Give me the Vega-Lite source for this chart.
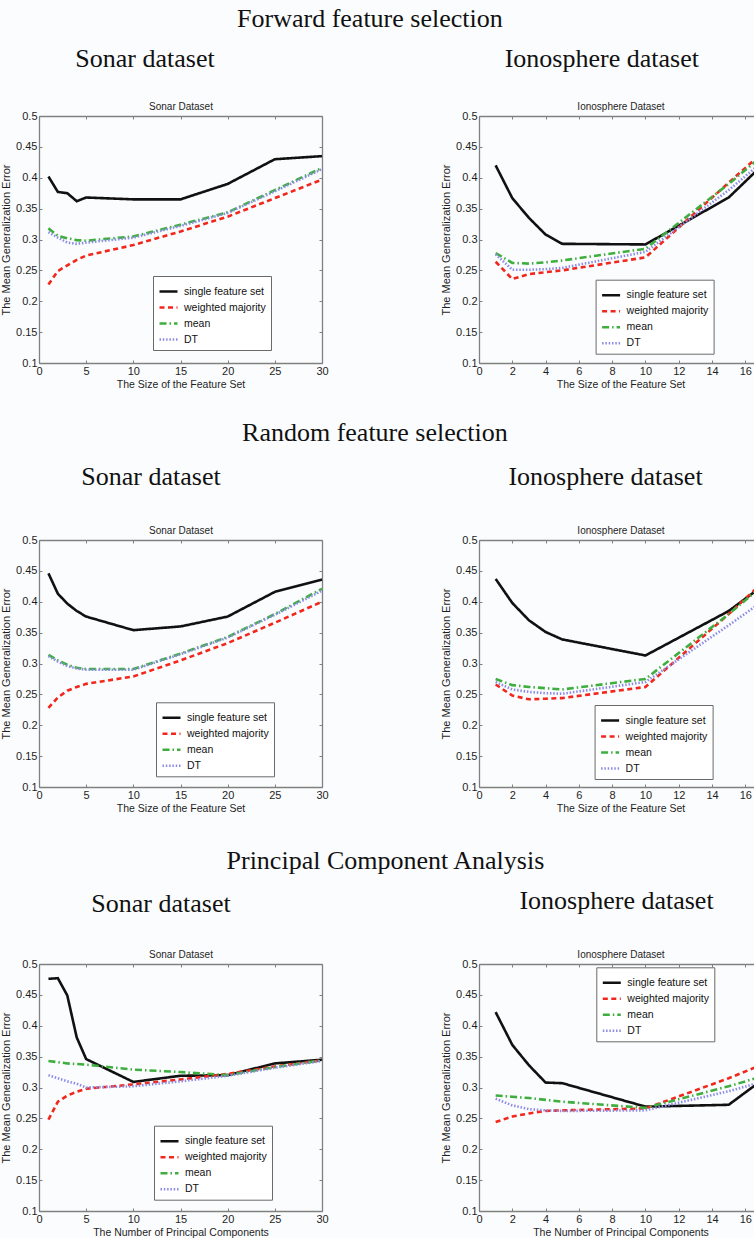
{
"$schema": "https://vega.github.io/schema/vega-lite/v6.json",
"background": "#fbfcfd",
"padding": {"left": 0, "top": 5, "right": -8, "bottom": 0},
"config": {
 "font": "Liberation Sans",
 "view": {"stroke": null},
 "axis": {"grid": false, "domainColor": "#808080", "domainWidth": 1.3, "tickColor": "#808080", "tickWidth": 1, "tickSize": -3, "labelPadding": 5, "labelFont": "Liberation Sans Narrow, Liberation Sans", "labelFontSize": 11, "labelColor": "#1e1e1e", "labelFlush": false, "labelOverlap": false, "titleFont": "Liberation Sans", "titleFontWeight": "normal", "titleColor": "#1e1e1e"},
 "axisBottom": {"titleFontSize": 10.5, "titlePadding": 3},
 "axisLeft": {"titleFontSize": 11, "titlePadding": 4},
 "axisTop": {"titleFontSize": 10, "titlePadding": 4},
 "title": {"font": "Liberation Serif", "fontSize": 26, "fontWeight": "normal", "color": "#111111"},
 "legend": {"fillColor": "#ffffff", "strokeColor": "#6a6a6a", "padding": 5, "labelFont": "Liberation Sans", "labelFontSize": 10.5, "labelColor": "#111111", "symbolType": "stroke", "symbolSize": 324, "labelOffset": 5, "rowPadding": -5}
},
"datasets": {"d": [
{"p":"fs","m":"single feature set","x":1,"y":0.402},{"p":"fs","m":"single feature set","x":2,"y":0.377},{"p":"fs","m":"single feature set","x":3,"y":0.375},{"p":"fs","m":"single feature set","x":4,"y":0.362},{"p":"fs","m":"single feature set","x":5,"y":0.368},{"p":"fs","m":"single feature set","x":10,"y":0.365},{"p":"fs","m":"single feature set","x":15,"y":0.365},{"p":"fs","m":"single feature set","x":20,"y":0.390},{"p":"fs","m":"single feature set","x":25,"y":0.430},{"p":"fs","m":"single feature set","x":30,"y":0.435},
{"p":"fs","m":"weighted majority","x":1,"y":0.227},{"p":"fs","m":"weighted majority","x":2,"y":0.249},{"p":"fs","m":"weighted majority","x":3,"y":0.258},{"p":"fs","m":"weighted majority","x":4,"y":0.267},{"p":"fs","m":"weighted majority","x":5,"y":0.274},{"p":"fs","m":"weighted majority","x":10,"y":0.291},{"p":"fs","m":"weighted majority","x":15,"y":0.313},{"p":"fs","m":"weighted majority","x":20,"y":0.337},{"p":"fs","m":"weighted majority","x":25,"y":0.367},{"p":"fs","m":"weighted majority","x":30,"y":0.397},
{"p":"fs","m":"mean","x":1,"y":0.318},{"p":"fs","m":"mean","x":2,"y":0.306},{"p":"fs","m":"mean","x":3,"y":0.302},{"p":"fs","m":"mean","x":4,"y":0.299},{"p":"fs","m":"mean","x":5,"y":0.298},{"p":"fs","m":"mean","x":10,"y":0.305},{"p":"fs","m":"mean","x":15,"y":0.324},{"p":"fs","m":"mean","x":20,"y":0.344},{"p":"fs","m":"mean","x":25,"y":0.380},{"p":"fs","m":"mean","x":30,"y":0.416},
{"p":"fs","m":"DT","x":1,"y":0.312},{"p":"fs","m":"DT","x":2,"y":0.303},{"p":"fs","m":"DT","x":3,"y":0.295},{"p":"fs","m":"DT","x":4,"y":0.293},{"p":"fs","m":"DT","x":5,"y":0.295},{"p":"fs","m":"DT","x":10,"y":0.303},{"p":"fs","m":"DT","x":15,"y":0.322},{"p":"fs","m":"DT","x":20,"y":0.343},{"p":"fs","m":"DT","x":25,"y":0.378},{"p":"fs","m":"DT","x":30,"y":0.414},
{"p":"fi","m":"single feature set","x":1,"y":0.420},{"p":"fi","m":"single feature set","x":2,"y":0.367},{"p":"fi","m":"single feature set","x":3,"y":0.335},{"p":"fi","m":"single feature set","x":4,"y":0.308},{"p":"fi","m":"single feature set","x":5,"y":0.293},{"p":"fi","m":"single feature set","x":10,"y":0.292},{"p":"fi","m":"single feature set","x":15,"y":0.368},{"p":"fi","m":"single feature set","x":17,"y":0.420},
{"p":"fi","m":"weighted majority","x":1,"y":0.264},{"p":"fi","m":"weighted majority","x":2,"y":0.236},{"p":"fi","m":"weighted majority","x":3,"y":0.244},{"p":"fi","m":"weighted majority","x":4,"y":0.247},{"p":"fi","m":"weighted majority","x":5,"y":0.250},{"p":"fi","m":"weighted majority","x":10,"y":0.271},{"p":"fi","m":"weighted majority","x":15,"y":0.392},{"p":"fi","m":"weighted majority","x":17,"y":0.440},
{"p":"fi","m":"mean","x":1,"y":0.278},{"p":"fi","m":"mean","x":2,"y":0.262},{"p":"fi","m":"mean","x":3,"y":0.261},{"p":"fi","m":"mean","x":4,"y":0.263},{"p":"fi","m":"mean","x":5,"y":0.266},{"p":"fi","m":"mean","x":10,"y":0.285},{"p":"fi","m":"mean","x":15,"y":0.390},{"p":"fi","m":"mean","x":17,"y":0.435},
{"p":"fi","m":"DT","x":1,"y":0.276},{"p":"fi","m":"DT","x":2,"y":0.251},{"p":"fi","m":"DT","x":3,"y":0.251},{"p":"fi","m":"DT","x":4,"y":0.252},{"p":"fi","m":"DT","x":5,"y":0.254},{"p":"fi","m":"DT","x":10,"y":0.280},{"p":"fi","m":"DT","x":15,"y":0.380},{"p":"fi","m":"DT","x":17,"y":0.425},
{"p":"rs","m":"single feature set","x":1,"y":0.446},{"p":"rs","m":"single feature set","x":2,"y":0.413},{"p":"rs","m":"single feature set","x":3,"y":0.397},{"p":"rs","m":"single feature set","x":4,"y":0.385},{"p":"rs","m":"single feature set","x":5,"y":0.376},{"p":"rs","m":"single feature set","x":10,"y":0.354},{"p":"rs","m":"single feature set","x":15,"y":0.360},{"p":"rs","m":"single feature set","x":20,"y":0.376},{"p":"rs","m":"single feature set","x":25,"y":0.416},{"p":"rs","m":"single feature set","x":30,"y":0.436},
{"p":"rs","m":"weighted majority","x":1,"y":0.228},{"p":"rs","m":"weighted majority","x":2,"y":0.245},{"p":"rs","m":"weighted majority","x":3,"y":0.256},{"p":"rs","m":"weighted majority","x":4,"y":0.262},{"p":"rs","m":"weighted majority","x":5,"y":0.267},{"p":"rs","m":"weighted majority","x":10,"y":0.279},{"p":"rs","m":"weighted majority","x":15,"y":0.305},{"p":"rs","m":"weighted majority","x":20,"y":0.333},{"p":"rs","m":"weighted majority","x":25,"y":0.366},{"p":"rs","m":"weighted majority","x":30,"y":0.400},
{"p":"rs","m":"mean","x":1,"y":0.314},{"p":"rs","m":"mean","x":2,"y":0.305},{"p":"rs","m":"mean","x":3,"y":0.298},{"p":"rs","m":"mean","x":4,"y":0.293},{"p":"rs","m":"mean","x":5,"y":0.291},{"p":"rs","m":"mean","x":10,"y":0.291},{"p":"rs","m":"mean","x":15,"y":0.316},{"p":"rs","m":"mean","x":20,"y":0.343},{"p":"rs","m":"mean","x":25,"y":0.380},{"p":"rs","m":"mean","x":30,"y":0.421},
{"p":"rs","m":"DT","x":1,"y":0.312},{"p":"rs","m":"DT","x":2,"y":0.303},{"p":"rs","m":"DT","x":3,"y":0.296},{"p":"rs","m":"DT","x":4,"y":0.292},{"p":"rs","m":"DT","x":5,"y":0.290},{"p":"rs","m":"DT","x":10,"y":0.290},{"p":"rs","m":"DT","x":15,"y":0.315},{"p":"rs","m":"DT","x":20,"y":0.342},{"p":"rs","m":"DT","x":25,"y":0.379},{"p":"rs","m":"DT","x":30,"y":0.418},
{"p":"ri","m":"single feature set","x":1,"y":0.437},{"p":"ri","m":"single feature set","x":2,"y":0.398},{"p":"ri","m":"single feature set","x":3,"y":0.370},{"p":"ri","m":"single feature set","x":4,"y":0.351},{"p":"ri","m":"single feature set","x":5,"y":0.339},{"p":"ri","m":"single feature set","x":10,"y":0.313},{"p":"ri","m":"single feature set","x":15,"y":0.385},{"p":"ri","m":"single feature set","x":17,"y":0.425},
{"p":"ri","m":"weighted majority","x":1,"y":0.266},{"p":"ri","m":"weighted majority","x":2,"y":0.248},{"p":"ri","m":"weighted majority","x":3,"y":0.242},{"p":"ri","m":"weighted majority","x":4,"y":0.243},{"p":"ri","m":"weighted majority","x":5,"y":0.244},{"p":"ri","m":"weighted majority","x":10,"y":0.262},{"p":"ri","m":"weighted majority","x":15,"y":0.380},{"p":"ri","m":"weighted majority","x":17,"y":0.430},
{"p":"ri","m":"mean","x":1,"y":0.275},{"p":"ri","m":"mean","x":2,"y":0.265},{"p":"ri","m":"mean","x":3,"y":0.262},{"p":"ri","m":"mean","x":4,"y":0.260},{"p":"ri","m":"mean","x":5,"y":0.258},{"p":"ri","m":"mean","x":10,"y":0.275},{"p":"ri","m":"mean","x":15,"y":0.380},{"p":"ri","m":"mean","x":17,"y":0.425},
{"p":"ri","m":"DT","x":1,"y":0.270},{"p":"ri","m":"DT","x":2,"y":0.258},{"p":"ri","m":"DT","x":3,"y":0.254},{"p":"ri","m":"DT","x":4,"y":0.252},{"p":"ri","m":"DT","x":5,"y":0.251},{"p":"ri","m":"DT","x":10,"y":0.270},{"p":"ri","m":"DT","x":15,"y":0.362},{"p":"ri","m":"DT","x":17,"y":0.400},
{"p":"ps","m":"single feature set","x":1,"y":0.476},{"p":"ps","m":"single feature set","x":2,"y":0.477},{"p":"ps","m":"single feature set","x":3,"y":0.449},{"p":"ps","m":"single feature set","x":4,"y":0.381},{"p":"ps","m":"single feature set","x":5,"y":0.346},{"p":"ps","m":"single feature set","x":10,"y":0.309},{"p":"ps","m":"single feature set","x":15,"y":0.319},{"p":"ps","m":"single feature set","x":20,"y":0.320},{"p":"ps","m":"single feature set","x":25,"y":0.339},{"p":"ps","m":"single feature set","x":30,"y":0.345},
{"p":"ps","m":"weighted majority","x":1,"y":0.248},{"p":"ps","m":"weighted majority","x":2,"y":0.277},{"p":"ps","m":"weighted majority","x":3,"y":0.287},{"p":"ps","m":"weighted majority","x":4,"y":0.293},{"p":"ps","m":"weighted majority","x":5,"y":0.298},{"p":"ps","m":"weighted majority","x":10,"y":0.305},{"p":"ps","m":"weighted majority","x":15,"y":0.313},{"p":"ps","m":"weighted majority","x":20,"y":0.322},{"p":"ps","m":"weighted majority","x":25,"y":0.334},{"p":"ps","m":"weighted majority","x":30,"y":0.344},
{"p":"ps","m":"mean","x":1,"y":0.343},{"p":"ps","m":"mean","x":2,"y":0.341},{"p":"ps","m":"mean","x":3,"y":0.339},{"p":"ps","m":"mean","x":4,"y":0.338},{"p":"ps","m":"mean","x":5,"y":0.337},{"p":"ps","m":"mean","x":10,"y":0.329},{"p":"ps","m":"mean","x":15,"y":0.325},{"p":"ps","m":"mean","x":20,"y":0.320},{"p":"ps","m":"mean","x":25,"y":0.333},{"p":"ps","m":"mean","x":30,"y":0.344},
{"p":"ps","m":"DT","x":1,"y":0.320},{"p":"ps","m":"DT","x":2,"y":0.315},{"p":"ps","m":"DT","x":3,"y":0.310},{"p":"ps","m":"DT","x":4,"y":0.306},{"p":"ps","m":"DT","x":5,"y":0.300},{"p":"ps","m":"DT","x":10,"y":0.302},{"p":"ps","m":"DT","x":15,"y":0.310},{"p":"ps","m":"DT","x":20,"y":0.319},{"p":"ps","m":"DT","x":25,"y":0.332},{"p":"ps","m":"DT","x":30,"y":0.343},
{"p":"pi","m":"single feature set","x":1,"y":0.422},{"p":"pi","m":"single feature set","x":2,"y":0.369},{"p":"pi","m":"single feature set","x":3,"y":0.336},{"p":"pi","m":"single feature set","x":4,"y":0.308},{"p":"pi","m":"single feature set","x":5,"y":0.307},{"p":"pi","m":"single feature set","x":10,"y":0.269},{"p":"pi","m":"single feature set","x":15,"y":0.272},{"p":"pi","m":"single feature set","x":17,"y":0.312},
{"p":"pi","m":"weighted majority","x":1,"y":0.244},{"p":"pi","m":"weighted majority","x":2,"y":0.253},{"p":"pi","m":"weighted majority","x":3,"y":0.258},{"p":"pi","m":"weighted majority","x":4,"y":0.262},{"p":"pi","m":"weighted majority","x":5,"y":0.263},{"p":"pi","m":"weighted majority","x":10,"y":0.266},{"p":"pi","m":"weighted majority","x":15,"y":0.315},{"p":"pi","m":"weighted majority","x":17,"y":0.337},
{"p":"pi","m":"mean","x":1,"y":0.287},{"p":"pi","m":"mean","x":2,"y":0.285},{"p":"pi","m":"mean","x":3,"y":0.283},{"p":"pi","m":"mean","x":4,"y":0.280},{"p":"pi","m":"mean","x":5,"y":0.277},{"p":"pi","m":"mean","x":10,"y":0.267},{"p":"pi","m":"mean","x":15,"y":0.302},{"p":"pi","m":"mean","x":17,"y":0.318},
{"p":"pi","m":"DT","x":1,"y":0.282},{"p":"pi","m":"DT","x":2,"y":0.271},{"p":"pi","m":"DT","x":3,"y":0.265},{"p":"pi","m":"DT","x":4,"y":0.263},{"p":"pi","m":"DT","x":5,"y":0.262},{"p":"pi","m":"DT","x":10,"y":0.263},{"p":"pi","m":"DT","x":15,"y":0.294},{"p":"pi","m":"DT","x":17,"y":0.309}
]},
"data": {"name": "d"},
"spacing": 424,
"bounds": "flush",
"resolve": {"scale": {"color": "independent", "strokeDash": "independent", "strokeWidth": "independent"}, "legend": {"color": "independent", "strokeDash": "independent", "strokeWidth": "independent"}},
"vconcat": [
{
 "title": {"text": "Forward feature selection", "anchor": "middle", "offset": 14, "dx": -14},
 "spacing": 157, "bounds": "flush",
 "resolve": {"scale": {"color": "independent", "strokeDash": "independent", "strokeWidth": "independent"}, "legend": {"color": "independent", "strokeDash": "independent", "strokeWidth": "independent"}},
 "hconcat": [
  {
   "title": {"text": "Sonar dataset", "frame": "group", "dx": -35.5, "offset": 30},
   "width": 283, "height": 247,
   "transform": [{"filter": "datum.p == 'fs'"}],
   "layer": [
    {"mark": {"type": "line"},
     "encoding": {
      "x": {"field": "x", "type": "quantitative", "scale": {"domain": [0, 30], "nice": false}, "axis": {"orient": "bottom", "title": "The Size of the Feature Set", "values": [0,5,10,15,20,25,30]}},
      "y": {"field": "y", "type": "quantitative", "scale": {"domain": [0.1, 0.5], "nice": false, "zero": false}, "axis": {"orient": "left", "title": "The Mean Generalization Error", "values": [0.1,0.15,0.2,0.25,0.3,0.35,0.4,0.45,0.5], "format": ".2~f"}},
      "color": {"field": "m", "type": "nominal", "scale": {"domain": ["single feature set","weighted majority","mean","DT"], "range": ["#111111","#f2261b","#3fae3f","#8c8ce6"]}, "legend": {"title": null, "orient": "none", "legendX": 114, "legendY": 160}},
      "strokeDash": {"field": "m", "type": "nominal", "scale": {"domain": ["single feature set","weighted majority","mean","DT"], "range": [[1,0],[5,3.5],[7,3,1.5,3],[1.5,1.8]]}, "legend": {"title": null, "orient": "none", "legendX": 114, "legendY": 160}},
      "strokeWidth": {"field": "m", "type": "nominal", "scale": {"domain": ["single feature set","weighted majority","mean","DT"], "range": [2.6,2.6,1.8,1.8]}, "legend": {"title": null, "orient": "none", "legendX": 114, "legendY": 160}}
     }},
    {"mark": {"type": "point", "opacity": 0},
     "encoding": {
      "x": {"field": "x", "type": "quantitative", "scale": {"domain": [0, 30], "nice": false}, "axis": {"orient": "top", "title": "Sonar Dataset", "labels": false, "values": [0,5,10,15,20,25,30]}},
      "y": {"field": "y", "type": "quantitative", "scale": {"domain": [0.1, 0.5], "nice": false, "zero": false}, "axis": {"orient": "right", "title": null, "labels": false, "values": [0.1,0.15,0.2,0.25,0.3,0.35,0.4,0.45,0.5]}}
     }}
   ],
   "resolve": {"axis": {"x": "independent", "y": "independent"}}
  },
  {
   "title": {"text": "Ionosphere dataset", "frame": "group", "dx": -18.7, "offset": 30},
   "width": 283, "height": 247,
   "transform": [{"filter": "datum.p == 'fi'"}],
   "layer": [
    {"mark": {"type": "line"},
     "encoding": {
      "x": {"field": "x", "type": "quantitative", "scale": {"domain": [0, 17], "nice": false}, "axis": {"orient": "bottom", "title": "The Size of the Feature Set", "values": [0,2,4,6,8,10,12,14,16]}},
      "y": {"field": "y", "type": "quantitative", "scale": {"domain": [0.1, 0.5], "nice": false, "zero": false}, "axis": {"orient": "left", "title": "The Mean Generalization Error", "values": [0.1,0.15,0.2,0.25,0.3,0.35,0.4,0.45,0.5], "format": ".2~f"}},
      "color": {"field": "m", "type": "nominal", "scale": {"domain": ["single feature set","weighted majority","mean","DT"], "range": ["#111111","#f2261b","#3fae3f","#8c8ce6"]}, "legend": {"title": null, "orient": "none", "legendX": 116.6, "legendY": 163.7}},
      "strokeDash": {"field": "m", "type": "nominal", "scale": {"domain": ["single feature set","weighted majority","mean","DT"], "range": [[1,0],[5,3.5],[7,3,1.5,3],[1.5,1.8]]}, "legend": {"title": null, "orient": "none", "legendX": 116.6, "legendY": 163.7}},
      "strokeWidth": {"field": "m", "type": "nominal", "scale": {"domain": ["single feature set","weighted majority","mean","DT"], "range": [2.6,2.6,1.8,1.8]}, "legend": {"title": null, "orient": "none", "legendX": 116.6, "legendY": 163.7}}
     }},
    {"mark": {"type": "point", "opacity": 0},
     "encoding": {
      "x": {"field": "x", "type": "quantitative", "scale": {"domain": [0, 17], "nice": false}, "axis": {"orient": "top", "title": "Ionosphere Dataset", "labels": false, "values": [0,2,4,6,8,10,12,14,16]}},
      "y": {"field": "y", "type": "quantitative", "scale": {"domain": [0.1, 0.5], "nice": false, "zero": false}, "axis": {"orient": "right", "title": null, "labels": false, "values": [0.1,0.15,0.2,0.25,0.3,0.35,0.4,0.45,0.5]}}
     }}
   ],
   "resolve": {"axis": {"x": "independent", "y": "independent"}}
  }
 ]
},
{
 "title": {"text": "Random feature selection", "anchor": "middle", "offset": 18, "dx": -9},
 "spacing": 157, "bounds": "flush",
 "resolve": {"scale": {"color": "independent", "strokeDash": "independent", "strokeWidth": "independent"}, "legend": {"color": "independent", "strokeDash": "independent", "strokeWidth": "independent"}},
 "hconcat": [
  {
   "title": {"text": "Sonar dataset", "frame": "group", "dx": -29.5, "offset": 36},
   "width": 283, "height": 247,
   "transform": [{"filter": "datum.p == 'rs'"}],
   "layer": [
    {"mark": {"type": "line"},
     "encoding": {
      "x": {"field": "x", "type": "quantitative", "scale": {"domain": [0, 30], "nice": false}, "axis": {"orient": "bottom", "title": "The Size of the Feature Set", "values": [0,5,10,15,20,25,30]}},
      "y": {"field": "y", "type": "quantitative", "scale": {"domain": [0.1, 0.5], "nice": false, "zero": false}, "axis": {"orient": "left", "title": "The Mean Generalization Error", "values": [0.1,0.15,0.2,0.25,0.3,0.35,0.4,0.45,0.5], "format": ".2~f"}},
      "color": {"field": "m", "type": "nominal", "scale": {"domain": ["single feature set","weighted majority","mean","DT"], "range": ["#111111","#f2261b","#3fae3f","#8c8ce6"]}, "legend": {"title": null, "orient": "none", "legendX": 117, "legendY": 162.3}},
      "strokeDash": {"field": "m", "type": "nominal", "scale": {"domain": ["single feature set","weighted majority","mean","DT"], "range": [[1,0],[5,3.5],[7,3,1.5,3],[1.5,1.8]]}, "legend": {"title": null, "orient": "none", "legendX": 117, "legendY": 162.3}},
      "strokeWidth": {"field": "m", "type": "nominal", "scale": {"domain": ["single feature set","weighted majority","mean","DT"], "range": [2.6,2.6,1.8,1.8]}, "legend": {"title": null, "orient": "none", "legendX": 117, "legendY": 162.3}}
     }},
    {"mark": {"type": "point", "opacity": 0},
     "encoding": {
      "x": {"field": "x", "type": "quantitative", "scale": {"domain": [0, 30], "nice": false}, "axis": {"orient": "top", "title": "Sonar Dataset", "labels": false, "values": [0,5,10,15,20,25,30]}},
      "y": {"field": "y", "type": "quantitative", "scale": {"domain": [0.1, 0.5], "nice": false, "zero": false}, "axis": {"orient": "right", "title": null, "labels": false, "values": [0.1,0.15,0.2,0.25,0.3,0.35,0.4,0.45,0.5]}}
     }}
   ],
   "resolve": {"axis": {"x": "independent", "y": "independent"}}
  },
  {
   "title": {"text": "Ionosphere dataset", "frame": "group", "dx": -15, "offset": 36},
   "width": 283, "height": 247,
   "transform": [{"filter": "datum.p == 'ri'"}],
   "layer": [
    {"mark": {"type": "line"},
     "encoding": {
      "x": {"field": "x", "type": "quantitative", "scale": {"domain": [0, 17], "nice": false}, "axis": {"orient": "bottom", "title": "The Size of the Feature Set", "values": [0,2,4,6,8,10,12,14,16]}},
      "y": {"field": "y", "type": "quantitative", "scale": {"domain": [0.1, 0.5], "nice": false, "zero": false}, "axis": {"orient": "left", "title": "The Mean Generalization Error", "values": [0.1,0.15,0.2,0.25,0.3,0.35,0.4,0.45,0.5], "format": ".2~f"}},
      "color": {"field": "m", "type": "nominal", "scale": {"domain": ["single feature set","weighted majority","mean","DT"], "range": ["#111111","#f2261b","#3fae3f","#8c8ce6"]}, "legend": {"title": null, "orient": "none", "legendX": 115.6, "legendY": 165}},
      "strokeDash": {"field": "m", "type": "nominal", "scale": {"domain": ["single feature set","weighted majority","mean","DT"], "range": [[1,0],[5,3.5],[7,3,1.5,3],[1.5,1.8]]}, "legend": {"title": null, "orient": "none", "legendX": 115.6, "legendY": 165}},
      "strokeWidth": {"field": "m", "type": "nominal", "scale": {"domain": ["single feature set","weighted majority","mean","DT"], "range": [2.6,2.6,1.8,1.8]}, "legend": {"title": null, "orient": "none", "legendX": 115.6, "legendY": 165}}
     }},
    {"mark": {"type": "point", "opacity": 0},
     "encoding": {
      "x": {"field": "x", "type": "quantitative", "scale": {"domain": [0, 17], "nice": false}, "axis": {"orient": "top", "title": "Ionosphere Dataset", "labels": false, "values": [0,2,4,6,8,10,12,14,16]}},
      "y": {"field": "y", "type": "quantitative", "scale": {"domain": [0.1, 0.5], "nice": false, "zero": false}, "axis": {"orient": "right", "title": null, "labels": false, "values": [0.1,0.15,0.2,0.25,0.3,0.35,0.4,0.45,0.5]}}
     }}
   ],
   "resolve": {"axis": {"x": "independent", "y": "independent"}}
  }
 ]
},
{
 "title": {"text": "Principal Component Analysis", "anchor": "middle", "offset": 14, "dx": 1.5},
 "spacing": 157, "bounds": "flush",
 "resolve": {"scale": {"color": "independent", "strokeDash": "independent", "strokeWidth": "independent"}, "legend": {"color": "independent", "strokeDash": "independent", "strokeWidth": "independent"}},
 "hconcat": [
  {
   "title": {"text": "Sonar dataset", "frame": "group", "dx": -19.5, "offset": 33},
   "width": 283, "height": 247,
   "transform": [{"filter": "datum.p == 'ps'"}],
   "layer": [
    {"mark": {"type": "line"},
     "encoding": {
      "x": {"field": "x", "type": "quantitative", "scale": {"domain": [0, 30], "nice": false}, "axis": {"orient": "bottom", "title": "The Number of Principal Components", "values": [0,5,10,15,20,25,30]}},
      "y": {"field": "y", "type": "quantitative", "scale": {"domain": [0.1, 0.5], "nice": false, "zero": false}, "axis": {"orient": "left", "title": "The Mean Generalization Error", "values": [0.1,0.15,0.2,0.25,0.3,0.35,0.4,0.45,0.5], "format": ".2~f"}},
      "color": {"field": "m", "type": "nominal", "scale": {"domain": ["single feature set","weighted majority","mean","DT"], "range": ["#111111","#f2261b","#3fae3f","#8c8ce6"]}, "legend": {"title": null, "orient": "none", "legendX": 115, "legendY": 161.7}},
      "strokeDash": {"field": "m", "type": "nominal", "scale": {"domain": ["single feature set","weighted majority","mean","DT"], "range": [[1,0],[5,3.5],[7,3,1.5,3],[1.5,1.8]]}, "legend": {"title": null, "orient": "none", "legendX": 115, "legendY": 161.7}},
      "strokeWidth": {"field": "m", "type": "nominal", "scale": {"domain": ["single feature set","weighted majority","mean","DT"], "range": [2.6,2.6,1.8,1.8]}, "legend": {"title": null, "orient": "none", "legendX": 115, "legendY": 161.7}}
     }},
    {"mark": {"type": "point", "opacity": 0},
     "encoding": {
      "x": {"field": "x", "type": "quantitative", "scale": {"domain": [0, 30], "nice": false}, "axis": {"orient": "top", "title": "Sonar Dataset", "labels": false, "values": [0,5,10,15,20,25,30]}},
      "y": {"field": "y", "type": "quantitative", "scale": {"domain": [0.1, 0.5], "nice": false, "zero": false}, "axis": {"orient": "right", "title": null, "labels": false, "values": [0.1,0.15,0.2,0.25,0.3,0.35,0.4,0.45,0.5]}}
     }}
   ],
   "resolve": {"axis": {"x": "independent", "y": "independent"}}
  },
  {
   "title": {"text": "Ionosphere dataset", "frame": "group", "dx": -4, "offset": 36},
   "width": 283, "height": 247,
   "transform": [{"filter": "datum.p == 'pi'"}],
   "layer": [
    {"mark": {"type": "line"},
     "encoding": {
      "x": {"field": "x", "type": "quantitative", "scale": {"domain": [0, 17], "nice": false}, "axis": {"orient": "bottom", "title": "The Number of Principal Components", "values": [0,2,4,6,8,10,12,14,16]}},
      "y": {"field": "y", "type": "quantitative", "scale": {"domain": [0.1, 0.5], "nice": false, "zero": false}, "axis": {"orient": "left", "title": "The Mean Generalization Error", "values": [0.1,0.15,0.2,0.25,0.3,0.35,0.4,0.45,0.5], "format": ".2~f"}},
      "color": {"field": "m", "type": "nominal", "scale": {"domain": ["single feature set","weighted majority","mean","DT"], "range": ["#111111","#f2261b","#3fae3f","#8c8ce6"]}, "legend": {"title": null, "orient": "none", "legendX": 117.3, "legendY": 3.3}},
      "strokeDash": {"field": "m", "type": "nominal", "scale": {"domain": ["single feature set","weighted majority","mean","DT"], "range": [[1,0],[5,3.5],[7,3,1.5,3],[1.5,1.8]]}, "legend": {"title": null, "orient": "none", "legendX": 117.3, "legendY": 3.3}},
      "strokeWidth": {"field": "m", "type": "nominal", "scale": {"domain": ["single feature set","weighted majority","mean","DT"], "range": [2.6,2.6,1.8,1.8]}, "legend": {"title": null, "orient": "none", "legendX": 117.3, "legendY": 3.3}}
     }},
    {"mark": {"type": "point", "opacity": 0},
     "encoding": {
      "x": {"field": "x", "type": "quantitative", "scale": {"domain": [0, 17], "nice": false}, "axis": {"orient": "top", "title": "Ionosphere Dataset", "labels": false, "values": [0,2,4,6,8,10,12,14,16]}},
      "y": {"field": "y", "type": "quantitative", "scale": {"domain": [0.1, 0.5], "nice": false, "zero": false}, "axis": {"orient": "right", "title": null, "labels": false, "values": [0.1,0.15,0.2,0.25,0.3,0.35,0.4,0.45,0.5]}}
     }}
   ],
   "resolve": {"axis": {"x": "independent", "y": "independent"}}
  }
 ]
}
]
}
